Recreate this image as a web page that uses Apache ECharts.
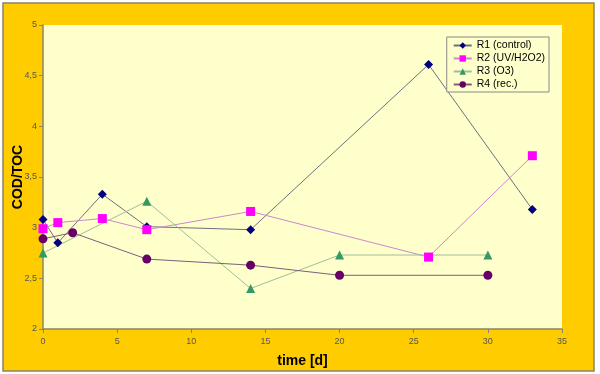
<!DOCTYPE html>
<html><head><meta charset="utf-8">
<script src="https://cdn.jsdelivr.net/npm/echarts@6/dist/echarts.min.js"></script>
<style>html,body{margin:0;padding:0;background:#fff}#c{width:600px;height:374px}</style>
</head><body><div id="c"></div>
<script>
var r1 = [[0,3.08],[1,2.85],[4,3.33],[7,3.01],[14,2.98],[26,4.61],[33,3.18]];
var r2 = [[0,2.99],[1,3.05],[4,3.09],[7,2.98],[14,3.16],[26,2.71],[33,3.71]];
var r3 = [[0,2.75],[7,3.26],[14,2.40],[20,2.73],[30,2.73]];
var r4 = [[0,2.89],[2,2.95],[7,2.69],[14,2.63],[20,2.53],[30,2.53]];
var names = ['R1 (control)','R2 (UV/H2O2)','R3 (O3)','R4 (rec.)'];
var chart = echarts.init(document.getElementById('c'));
var font = 'Liberation Sans, Arial, sans-serif';
function ser(name, data, sym, size, mcol, lcol){
  return {name:name, type:'line', data:data, symbol:sym, symbolSize:size,
    itemStyle:{color:mcol}, lineStyle:{color:lcol, width:1}, showSymbol:true};
}
chart.setOption({
  animation:false,
  graphic:[{type:'rect', z:-10, shape:{x:3,y:3,width:591,height:368},
    style:{fill:'#FFCC00', stroke:'#8c8466', lineWidth:1.5}}],
  grid:{left:43, right:38, top:25, bottom:45, show:true, backgroundColor:'#FFFFCC', borderWidth:0,
    containLabel:false, outerBoundsMode:'none'},
  legend:{data:names, orient:'vertical', right:51, top:37, itemWidth:18, itemHeight:8, itemGap:2,
    padding:[3,4,2,6], backgroundColor:'#FFFFCC', borderColor:'#888', borderWidth:1,
    textStyle:{fontFamily:font, fontSize:10.5, color:'#000'}},
  xAxis:{type:'value', min:0, max:35, interval:5,
    name:'time [d]', nameLocation:'middle', nameGap:25, nameMoveOverlap:false,
    nameTextStyle:{fontFamily:font, fontSize:14, fontWeight:'bold', color:'#000'},
    axisLine:{lineStyle:{color:'#8c8466', width:1.5}},
    axisTick:{show:true, length:4, lineStyle:{color:'#8c8466'}},
    axisLabel:{fontFamily:font, fontSize:9, color:'#555', margin:8},
    splitLine:{show:false}},
  yAxis:{type:'value', min:2, max:5, interval:0.5,
    name:'COD/TOC', nameLocation:'middle', nameGap:18, nameMoveOverlap:false,
    nameTextStyle:{fontFamily:font, fontSize:14, fontWeight:'bold', color:'#000'},
    axisLine:{show:true, lineStyle:{color:'#8c8466', width:1.5}},
    axisTick:{show:true, length:4, lineStyle:{color:'#8c8466'}},
    axisLabel:{fontFamily:font, fontSize:9, color:'#555', margin:6,
      formatter:function(v){return String(v).replace('.',',');}},
    splitLine:{show:false}},
  series:[
    ser(names[0], r1, 'diamond', 9, '#000080', '#6f6f80'),
    ser(names[1], r2, 'rect', 9, '#FF00FF', '#cc88cc'),
    ser(names[2], r3, 'triangle', 9, '#339966', '#9cbf9c'),
    ser(names[3], r4, 'circle', 9, '#660066', '#7a607a')
  ]
});
</script></body></html>
